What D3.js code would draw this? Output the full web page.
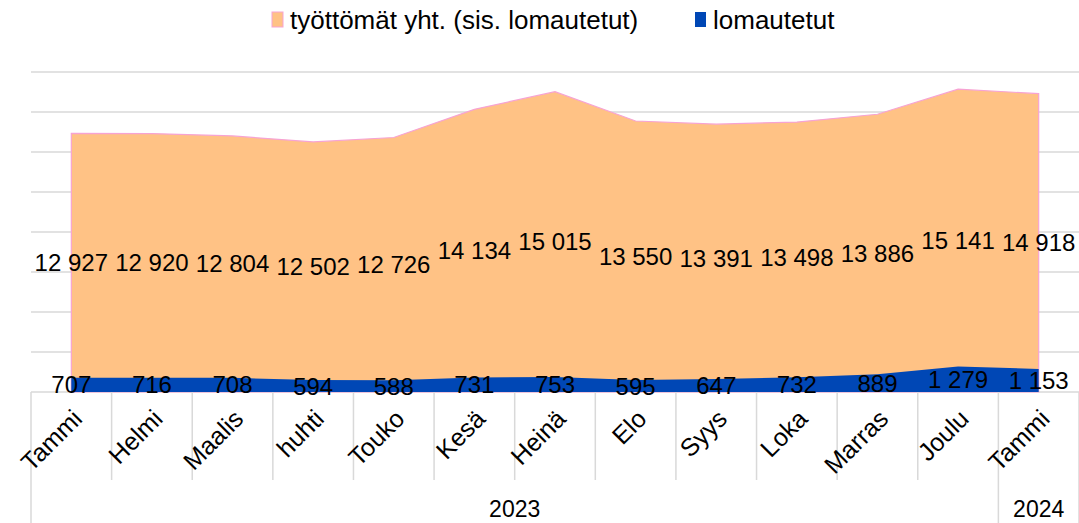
<!DOCTYPE html>
<html>
<head>
<meta charset="utf-8">
<script src="https://cdn.jsdelivr.net/npm/d3@7"></script>
<style>
body { margin: 0; background: #fff; }
svg { font-family: "Liberation Sans", Arial, sans-serif; }
</style>
</head>
<body>
<div id="chart"></div>
<script>
// kuukaudet ja vuodet
var months = ['Tammi', 'Helmi', 'Maalis', 'huhti', 'Touko', 'Kesä', 'Heinä', 'Elo', 'Syys', 'Loka', 'Marras', 'Joulu', 'Tammi'];
var years = [{label: '2023', from: 0, to: 12}, {label: '2024', from: 12, to: 13}];
var tyottomat = [12927, 12920, 12804, 12502, 12726, 14134, 15015, 13550, 13391, 13498, 13886, 15141, 14918];
var lomautetut = [707, 716, 708, 594, 588, 731, 753, 595, 647, 732, 889, 1279, 1153];
var seriesNames = ['työttömät yht. (sis. lomautetut)', 'lomautetut'];
var yTicks = [0, 2000, 4000, 6000, 8000, 10000, 12000, 14000, 16000];

var width = 1079, height = 523;
var margin = {left: 31, right: 0, top: 72, bottom: 131};
var W = width - margin.left - margin.right;
var H = height - margin.top - margin.bottom;

var orange = '#ffc285', pink = '#f7a3d3', blue = '#0047b5', grid = '#d9d9d9';

var svg = d3.select('#chart').append('svg')
	.attr('width', width).attr('height', height);

var x = d3.scaleBand().domain(d3.range(months.length)).range([0, W]);
var y = d3.scaleLinear().domain([0, 16000]).range([H, 0]);
var cx = function(i){ return x(i) + x.bandwidth() / 2; };

var g = svg.append('g').attr('transform', 'translate(' + [margin.left, margin.top] + ')');

// vaakaviivat
g.selectAll('.grid').data(yTicks).enter().append('line')
	.attr('x1', 0).attr('x2', W)
	.attr('y1', function(d){ return y(d); })
	.attr('y2', function(d){ return y(d); })
	.attr('stroke', grid).attr('stroke-width', 1.5);

var area = function(vals){
	return d3.area()
		.x(function(d, i){ return cx(i); })
		.y0(y(0))
		.y1(function(d){ return y(d); })(vals);
};

g.append('path').attr('d', area(tyottomat))
	.attr('fill', orange).attr('stroke', pink).attr('stroke-width', 1.2);
g.append('path').attr('d', area(lomautetut))
	.attr('fill', blue);

var fmt = function(v){ return d3.format(',')(v).replace(/,/g, ' '); };

// arvot
[tyottomat, lomautetut].forEach(function(vals){
	g.selectAll(null).data(vals).enter().append('text')
		.attr('x', function(d, i){ return cx(i); })
		.attr('y', function(d){ return y(d / 2); })
		.attr('text-anchor', 'middle')
		.attr('dominant-baseline', 'central')
		.attr('font-size', 24)
		.attr('fill', '#000')
		.text(fmt);
});

// x-akselin pystyviivat
var bounds = d3.range(months.length + 1);
var yearEdges = [0, 12, 13];
g.selectAll('.tick').data(bounds).enter().append('line')
	.attr('x1', function(d){ return d < months.length ? x(d) : W; })
	.attr('x2', function(d){ return d < months.length ? x(d) : W; })
	.attr('y1', H)
	.attr('y2', function(d){ return yearEdges.indexOf(d) >= 0 ? height - margin.top : H + 88; })
	.attr('stroke', grid).attr('stroke-width', 1.5);

g.selectAll('.mlab').data(months).enter().append('text')
	.attr('transform', function(d, i){ return 'translate(' + [cx(i) + 6, H + 22] + ') rotate(-45)'; })
	.attr('text-anchor', 'end')
	.attr('dominant-baseline', 'central')
	.attr('font-size', 25)
	.attr('fill', '#000')
	.text(function(d){ return d; });

g.selectAll('.ylab').data(years).enter().append('text')
	.attr('x', function(d){ return (x(d.from) + (d.to < months.length ? x(d.to) : W)) / 2; })
	.attr('y', H + 117)
	.attr('text-anchor', 'middle')
	.attr('dominant-baseline', 'central')
	.attr('font-size', 23)
	.attr('fill', '#000')
	.text(function(d){ return d.label; });

// selite
var legend = svg.append('g');
var lx = [272, 695];
seriesNames.forEach(function(name, i){
	legend.append('rect')
		.attr('x', lx[i]).attr('y', 12).attr('width', 11).attr('height', 15)
		.attr('fill', i === 0 ? orange : blue)
		.attr('stroke', i === 0 ? pink : 'none').attr('stroke-width', 1);
	legend.append('text')
		.attr('x', lx[i] + 18).attr('y', 20)
		.attr('dominant-baseline', 'central')
		.attr('font-size', 26)
		.attr('fill', '#000')
		.text(name);
});
</script>
</body>
</html>
